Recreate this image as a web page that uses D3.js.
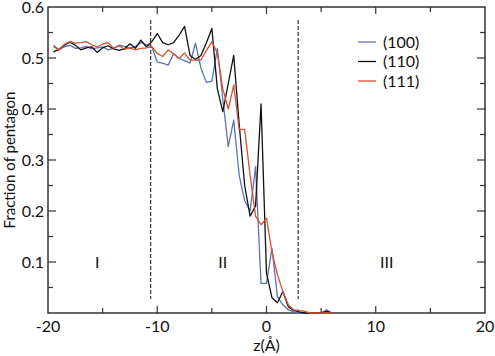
<!DOCTYPE html>
<html lang="en">
<head>
<meta charset="utf-8">
<title>Fraction of pentagon vs z</title>
<script src="https://cdn.jsdelivr.net/npm/d3@7"></script>
<style>
  body { margin: 0; background: #fff; }
  text { font-family: Lato, "Open Sans", sans-serif; fill: #111; }
</style>
</head>
<body>
<script>
// z grid (Angstrom)
var zs = d3.range(-19.5, 6.01, 0.5);

var s100 = [0.525,0.516,0.522,0.525,0.519,0.520,0.523,0.518,0.520,0.522,
            0.516,0.519,0.525,0.523,0.519,0.523,0.530,0.526,0.522,0.492,
            0.490,0.486,0.509,0.499,0.495,0.490,0.529,0.480,0.452,0.454,
            0.519,0.420,0.326,0.378,0.270,0.220,0.200,0.287,0.058,0.058,
            0.127,0.032,0.016,0.006,0.002,0.000,0.000,0.000,0.000,0.000,
            0.006,0.000];
var s110 = [0.512,0.517,0.525,0.531,0.525,0.516,0.520,0.522,0.511,0.520,
            0.524,0.518,0.515,0.518,0.528,0.519,0.535,0.522,0.532,0.548,
            0.530,0.526,0.530,0.545,0.562,0.505,0.497,0.505,0.530,0.558,
            0.440,0.395,0.450,0.505,0.370,0.250,0.190,0.210,0.410,0.078,
            0.030,0.020,0.042,0.012,0.005,0.002,0.000,0.000,0.000,0.000,
            0.003,0.000];
var s111 = [0.522,0.516,0.527,0.532,0.529,0.530,0.532,0.526,0.522,0.527,
            0.530,0.519,0.524,0.517,0.520,0.516,0.519,0.520,0.522,0.509,
            0.503,0.516,0.508,0.499,0.510,0.496,0.496,0.496,0.515,0.532,
            0.510,0.440,0.400,0.447,0.360,0.360,0.270,0.190,0.173,0.186,
            0.120,0.075,0.042,0.016,0.006,0.005,0.003,0.000,0.000,0.000,
            0.000,0.000];

var seriesNames = ["(100)", "(110)", "(111)"];
var seriesColors = ["#5f72ad", "#111111", "#d8512f"];
var seriesData = [s100, s110, s111];

var xTicks = [-20, -10, 0, 10, 20];
var yTicks = [0.1, 0.2, 0.3, 0.4, 0.5, 0.6];
var boundaries = [-10.6, 2.9];
var regionLabels = ["I", "II", "III"];
var regionPos = [-15.5, -4, 11];

var w = 495, h = 356;
var m = {left: 48, right: 10, top: 7, bottom: 43};

var svg = d3.select("body").append("svg")
    .attr("width", w).attr("height", h);

var x = d3.scaleLinear().domain([-20, 20]).range([m.left, w - m.right]);
var y = d3.scaleLinear().domain([0, 0.6]).range([h - m.bottom, m.top]);

var minorX = d3.range(-20, 20.01, 5);
var minorY = d3.range(0, 0.601, 0.05);

function isMajorX(d) { return Math.abs(d % 10) < 1e-6; }
function isMajorY(d) { return Math.abs(Math.round(d * 100) % 10) < 1e-6; }

// ticks (inward, mirrored on all sides)
var tk = svg.append("g").attr("stroke", "#333").attr("stroke-width", 1.2);
minorX.forEach(function (d) {
  if (d === -20 || d === 20) return;
  var len = isMajorX(d) ? 7 : 5;
  tk.append("line").attr("x1", x(d)).attr("x2", x(d))
    .attr("y1", y(0)).attr("y2", y(0) - len);
  tk.append("line").attr("x1", x(d)).attr("x2", x(d))
    .attr("y1", y(0.6)).attr("y2", y(0.6) + len);
});
minorY.forEach(function (d) {
  if (d < 0.01 || d > 0.59) return;
  var len = isMajorY(d) ? 8 : 5;
  tk.append("line").attr("y1", y(d)).attr("y2", y(d))
    .attr("x1", x(-20)).attr("x2", x(-20) + len);
  tk.append("line").attr("y1", y(d)).attr("y2", y(d))
    .attr("x1", x(20)).attr("x2", x(20) - len);
});

// frame
svg.append("rect")
    .attr("x", x(-20)).attr("y", y(0.6))
    .attr("width", x(20) - x(-20)).attr("height", y(0) - y(0.6))
    .attr("fill", "none").attr("stroke", "#333").attr("stroke-width", 1.5);

// tick labels
svg.append("g").selectAll("text").data(xTicks).enter().append("text")
    .attr("x", function (d) { return x(d); })
    .attr("y", y(0) + 19)
    .attr("text-anchor", "middle")
    .style("font-size", "16px")
    .text(function (d) { return d; });

svg.append("g").selectAll("text").data(yTicks).enter().append("text")
    .attr("x", x(-20) - 4)
    .attr("y", function (d) { return y(d) + 5.5; })
    .attr("text-anchor", "end")
    .style("font-size", "16px")
    .text(function (d) { return d.toFixed(1); });

// axis titles
svg.append("text")
    .attr("x", x(0)).attr("y", h - 5)
    .attr("text-anchor", "middle")
    .style("font-size", "16px")
    .text("z(Å)");

svg.append("text")
    .attr("transform", "translate(15," + ((y(0) + y(0.6)) / 2) + ") rotate(-90)")
    .attr("text-anchor", "middle")
    .style("font-size", "15px")
    .text("Fraction of pentagon");

// region boundaries
svg.append("g").selectAll("line").data(boundaries).enter().append("line")
    .attr("x1", function (d) { return x(d); })
    .attr("x2", function (d) { return x(d); })
    .attr("y1", 20).attr("y2", 299)
    .attr("stroke", "#222").attr("stroke-width", 1.1)
    .attr("stroke-dasharray", "4,2");

svg.append("g").selectAll("text").data(regionLabels).enter().append("text")
    .attr("x", function (d, i) { return x(regionPos[i]); })
    .attr("y", y(0.1) + 6)
    .attr("text-anchor", "middle")
    .attr("fill", "#111")
    .style("font-size", "16px")
    .text(function (d) { return d; });

// series lines
var line = d3.line()
    .x(function (d, i) { return x(zs[i]); })
    .y(function (d) { return y(d); });

seriesData.forEach(function (s, k) {
  svg.append("path")
      .datum(s)
      .attr("d", line)
      .attr("fill", "none")
      .attr("stroke", seriesColors[k])
      .attr("stroke-width", 1.3)
      .attr("stroke-linejoin", "round");
});

// legend
var lg = svg.append("g");
seriesNames.forEach(function (n, k) {
  var yy = 42 + k * 19.5;
  lg.append("line").attr("x1", 358).attr("x2", 376)
    .attr("y1", yy).attr("y2", yy)
    .attr("stroke", seriesColors[k]).attr("stroke-width", 1.3);
  lg.append("text").attr("x", 383).attr("y", yy + 5.5)
    .style("font-size", "16px")
    .text(n);
});
</script>
</body>
</html>
